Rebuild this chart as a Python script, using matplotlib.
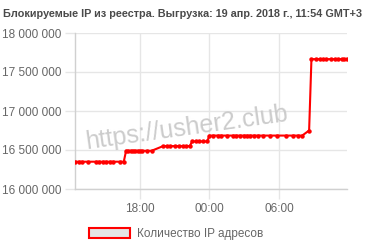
import matplotlib
matplotlib.use('Agg')
import matplotlib.pyplot as plt
from matplotlib.patches import Patch
from matplotlib.ticker import FuncFormatter

plt.rcParams['font.family'] = ['Liberation Sans', 'DejaVu Sans']

# hours since 12:00 of 18 apr
hours = [0.4, 0.7, 1.0, 1.5, 2.2, 2.5, 2.8, 3.1, 3.4, 3.7, 4.3, 4.6,
         4.8, 5.0, 5.2, 5.4, 5.6, 5.8, 6.0, 6.2, 6.6, 7.0,
         8.0, 8.3, 8.6, 9.0, 9.4, 9.7, 10.0, 10.3,
         10.5, 10.8, 11.1, 11.4, 11.8,
         12.0, 12.3, 12.7, 13.0, 13.5, 14.0, 14.3, 14.6, 15.0, 15.2,
         15.5, 15.8, 16.2, 16.6, 17.2, 17.8, 18.6, 19.2, 19.6, 20.0,
         20.6,
         20.8, 21.2, 21.5, 21.8, 22.1, 22.5, 22.8, 23.1, 23.4, 23.6, 23.9]
ips = [16350000] * 12 + [16490000] * 10 + [16550000] * 8 + [16610000] * 5 \
    + [16685000] * 20 + [16750000] + [17665000] * 11

tick_pos = [6, 12, 18]
tick_labels = ['18:00', '00:00', '06:00']
title = 'Блокируемые IP из реестра. Выгрузка: 19 апр. 2018 г., 11:54 GMT+3'
label = 'Количество IP адресов'

grid_c = '#e6e6e6'
text_c = '#666666'

fig = plt.figure(figsize=(3.65, 2.5), dpi=100)
ax = fig.add_axes([75 / 365, 1 - 189 / 250, 272 / 365, 156 / 250])

ax.plot(hours, ips, color='#ff0000', lw=1.5, marker='o', ms=2.2, zorder=3)

ax.set_xlim(0.39, 23.87)
ax.set_ylim(16000000, 18000000)
ax.set_yticks([16000000, 16500000, 17000000, 17500000, 18000000])
ax.yaxis.set_major_formatter(FuncFormatter(lambda v, p: '{:,.0f}'.format(v).replace(',', ' ')))
ax.set_xticks(tick_pos)
ax.set_xticklabels(tick_labels)

ax.grid(True, color=grid_c, lw=1)
ax.set_axisbelow(True)
for s in ['top', 'right']:
    ax.spines[s].set_visible(False)
for s in ['left', 'bottom']:
    ax.spines[s].set_color('#d0d0d0')
    ax.spines[s].set_linewidth(1)
ax.tick_params(colors=grid_c, labelcolor=text_c, labelsize=8.5, length=7, width=1, pad=3)

ax.text(0.41, 0.39, 'https://usher2.club', transform=ax.transAxes, fontsize=18,
        color='#cccccc', rotation=8, ha='center', va='center', zorder=2)

fig.text(0.5, 1 - 14 / 250, title, ha='center', va='center', fontsize=7.8,
         fontweight='bold', color='#4a4a4a')

h = Patch(facecolor='#e5e5e5', edgecolor='#ff0000', lw=1.5)
fig.legend([h], [label], loc='center', bbox_to_anchor=(0.482, 0.064), frameon=False,
           fontsize=8.5, handlelength=3.5, handleheight=1.0, handletextpad=0.6,
           labelcolor=text_c)

fig.savefig('out.png', dpi=100)
